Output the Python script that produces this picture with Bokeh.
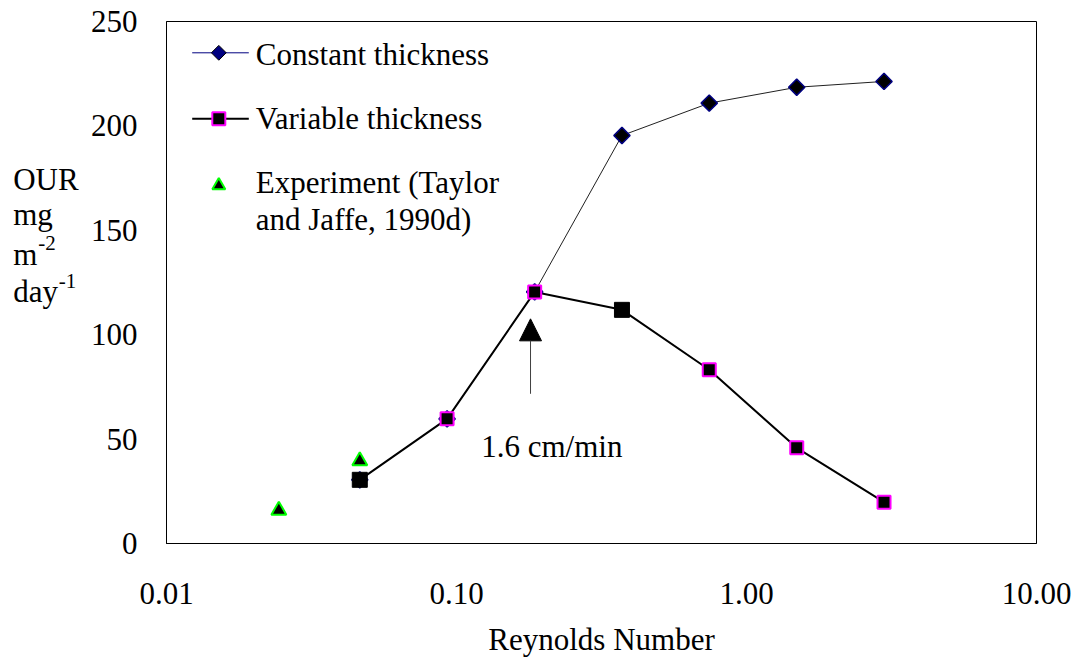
import numpy as np
from bokeh.plotting import figure
from bokeh.layouts import row
from bokeh.models import (Range1d, FixedTicker, CustomJSTickFormatter, Label,
                          Arrow, NormalHead, ColumnDataSource)
from bokeh.core.properties import value
from bokeh.embed import file_html
from bokeh.resources import INLINE

# ---------------- data ----------------
re_model = [0.0464, 0.0928, 0.186, 0.372, 0.744, 1.49, 2.98]
our_constant = [30.5, 59.7, 120.5, 195.4, 210.9, 218.5, 221.3]
our_variable = [30.5, 59.7, 120.5, 111.9, 83.2, 45.8, 19.8]
variable_highlight = [False, True, True, False, True, True, True]  # magenta-rimmed points
re_experiment = [0.0244, 0.0464]
our_experiment = [15.9, 39.5]
x_ticks = [0.01, 0.1, 1, 10]
y_ticks = [0, 50, 100, 150, 200, 250]
arrow_re = 0.18
arrow_our = [71.7, 107.6]
arrow_text = "1.6 cm/min"
series_names = ["Constant thickness", "Variable thickness"]
experiment_name = ["Experiment (Taylor", "and Jaffe, 1990d)"]
x_title = "Reynolds Number"
y_title = ["OUR", "mg", "m", "day"]
y_title_sup = ["-2", "-1"]

# ---------------- layout ----------------
FONT = "Liberation Serif"
FS = "31px"
TOTAL_W, TOTAL_H = 1080, 658
LEFT_W = 86                          # strip holding the y title
FL, FT, FW, FH = 166, 21, 870, 522   # frame in page pixels
X0, X1 = 0.01, 10
Y0, Y1 = 0, 250
LBL_DY = 10.5                        # label anchor correction (px)


def px_x(sx):
    return 10 ** (np.log10(X0) + np.log10(X1 / X0) * (sx - FL) / FW)


def px_y(sy):
    return Y0 + (Y1 - Y0) * (FT + FH - (sy - LBL_DY)) / FH


def px_y_mark(sy):
    return Y0 + (Y1 - Y0) * (FT + FH - sy) / FH


# ---- left strip with the multi-line y title (page pixel coordinates) ----
t = figure(width=LEFT_W, height=TOTAL_H, x_range=Range1d(0, LEFT_W),
           y_range=Range1d(FT + FH, FT), output_backend="svg",
           toolbar_location=None, x_axis_location=None, y_axis_location=None,
           min_border=0)
t.xgrid.visible = False
t.ygrid.visible = False
t.outline_line_color = None
t.background_fill_color = "white"
t.border_fill_color = "white"
t.text([12.7] * 4, [b - LBL_DY for b in [190, 224.5, 265, 301.7]], text=y_title,
       text_font=value(FONT), text_font_size=value(FS),
       text_baseline="alphabetic", text_align="left", text_color="black")
t.text([37.7, 58.3], [b - LBL_DY * 0.7 for b in [250, 288]], text=y_title_sup,
       text_font=value(FONT), text_font_size=value("21px"),
       text_baseline="alphabetic", text_align="left", text_color="black")

# ---- main chart ----
p = figure(frame_width=FW, frame_height=FH, x_axis_type="log",
           x_range=Range1d(X0, X1), y_range=Range1d(Y0, Y1),
           output_backend="svg", toolbar_location=None,
           min_border_left=FL - LEFT_W,
           min_border_right=TOTAL_W - FL - FW,
           min_border_top=FT, min_border_bottom=TOTAL_H - FT - FH)
p.xgrid.visible = False
p.ygrid.visible = False
p.outline_line_color = "black"
p.outline_line_width = 1
p.background_fill_color = "white"
p.border_fill_color = "white"

for ax in (p.xaxis[0], p.yaxis[0]):
    ax.major_tick_line_color = None
    ax.minor_tick_line_color = None
    ax.major_tick_in = 0
    ax.major_tick_out = 0
    ax.minor_tick_in = 0
    ax.minor_tick_out = 0
    ax.axis_line_color = "black"
    ax.axis_line_width = 1
    ax.major_label_text_font = FONT
    ax.major_label_text_font_size = FS
    ax.major_label_text_color = "black"

p.xaxis.ticker = FixedTicker(ticks=x_ticks)
p.xaxis.formatter = CustomJSTickFormatter(code="return tick.toFixed(2);")
p.yaxis.ticker = FixedTicker(ticks=y_ticks)
p.xaxis.major_label_standoff = 39
p.yaxis.major_label_standoff = 29
p.xaxis.axis_label = x_title
p.xaxis.axis_label_text_font = FONT
p.xaxis.axis_label_text_font_size = FS
p.xaxis.axis_label_text_font_style = "normal"
p.xaxis.axis_label_text_color = "black"
p.xaxis.axis_label_standoff = 15

# ---------------- series ----------------
src = ColumnDataSource(dict(
    x=re_model, c=our_constant, v=our_variable,
    rim=["#FF00FF" if h else "black" for h in variable_highlight],
    sz=[13 if h else 15 for h in variable_highlight],
    lw=[2 if h else 1 for h in variable_highlight],
))
p.line("x", "c", source=src, line_color="#202020", line_width=1)
p.line("x", "v", source=src, line_color="black", line_width=2)
p.scatter("x", "c", source=src, marker="square", angle=np.pi / 4, size=11.5,
          fill_color="black", line_color="#000080", line_width=1.5)
p.scatter("x", "v", source=src, marker="square", size="sz",
          fill_color="black", line_color="rim", line_width="lw")
p.scatter(re_experiment, our_experiment, marker="triangle", size=15,
          fill_color="black", line_color="#00FF00", line_width=2)

# arrow + note
p.add_layout(Arrow(end=NormalHead(size=22, fill_color="black", line_color="black"),
                   x_start=arrow_re, y_start=arrow_our[0],
                   x_end=arrow_re, y_end=arrow_our[1],
                   line_color="#404040", line_width=1))
p.add_layout(Label(x=px_x(480.7), y=px_y(456), text=arrow_text,
                   text_font=FONT, text_font_size=FS, text_baseline="alphabetic",
                   text_color="black"))

# ---------------- legend (drawn in the plot area) ----------------
lx0, lx1, lxm = px_x(191.7), px_x(248.3), px_x(218.3)
p.line([lx0, lx1], [px_y_mark(52.3)] * 2, line_color="#000080", line_width=1)
p.scatter([lxm], [px_y_mark(52.3)], marker="square", angle=np.pi / 4, size=10.5,
          fill_color="#000080", line_color="black", line_width=1)
p.line([lx0, lx1], [px_y_mark(118.3)] * 2, line_color="black", line_width=2)
p.scatter([lxm], [px_y_mark(118.3)], marker="square", size=13,
          fill_color="black", line_color="#FF00FF", line_width=2)
p.scatter([lxm], [px_y_mark(185)], marker="triangle", size=13,
          fill_color="black", line_color="#00FF00", line_width=2)
for txt, by in [(series_names[0], 64.3), (series_names[1], 128.3),
                (experiment_name[0], 192.7), (experiment_name[1], 229)]:
    p.add_layout(Label(x=px_x(255.3), y=px_y(by), text=txt, text_font=FONT,
                       text_font_size=FS, text_baseline="alphabetic",
                       text_color="black"))

layout = row(t, p, spacing=0)
open("out.html", "w").write(file_html(layout, INLINE))
